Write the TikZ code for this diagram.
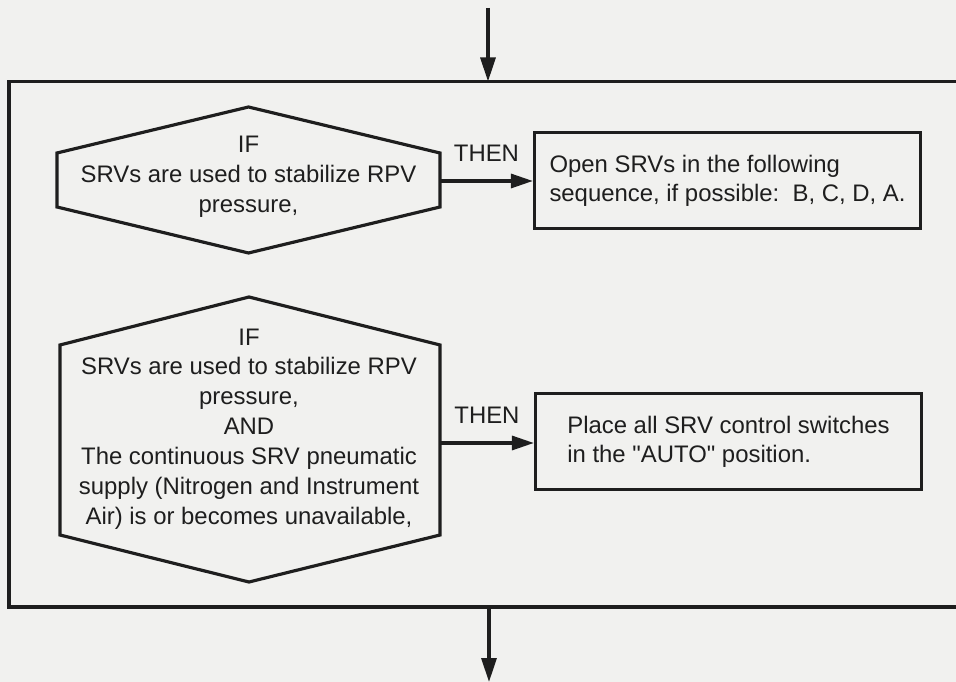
\documentclass[tikz,border=0pt]{standalone}
\usepackage{fontspec}
\setmainfont{Liberation Sans}
\usepackage{xcolor}
\definecolor{paperGray}{RGB}{241,241,239}
\definecolor{inkBlack}{RGB}{30,30,30}
\usepackage{tikz}
\usetikzlibrary{arrows.meta,positioning,calc}
\tikzstyle{condtext}=[align=center, inner sep=0pt, font=\fontsize{6.8}{8.5}\selectfont, text=inkBlack]
\tikzstyle{hexline}=[draw=inkBlack, line width=0.9pt, line join=miter]
\tikzstyle{actbox}=[rectangle, draw=inkBlack, line width=0.9pt, minimum width=3.86cm, minimum height=0.96cm, align=left, font=\fontsize{6.8}{8.3}\selectfont, text=inkBlack]
\tikzstyle{thenarrow}=[-{Triangle[length=0.22cm, width=0.14cm]}, line width=0.9pt, color=inkBlack]
\tikzstyle{flowarrow}=[-{Triangle[length=0.24cm, width=0.15cm]}, line width=0.9pt, color=inkBlack]

\begin{document}
\begin{tikzpicture}
    % Fundo e limites
    \fill[paperGray] (0,0) rectangle (9.56,-6.82);
    \useasboundingbox (0,0) rectangle (9.56,-6.82);

    % Moldura do bloco
    \coordinate (fr-tl) at (0.09,-0.815);
    \coordinate (fr-bl) at (0.09,-6.07);
    \coordinate (fr-tr) at (9.70,-0.815);
    \coordinate (fr-br) at (9.70,-6.07);
    \draw[hexline] (fr-tr) -- (fr-tl) -- (fr-bl) -- (fr-br);

    % Entrada e saida
    \coordinate (in)   at (4.88,-0.08);
    \coordinate (in-e) at (4.88,-0.815);
    \coordinate (out-s) at (4.89,-6.07);
    \coordinate (out)   at (4.89,-6.82);
    \draw[flowarrow] (in) -- (in-e);
    \draw[flowarrow] (out-s) -- (out);

    % Condicao 1
    \node[condtext] (cond1) at (2.485,-1.77)
        {IF\\SRVs are used to stabilize RPV\\pressure,};
    \draw[hexline] (2.485,-1.07) -- (4.40,-1.53) -- (4.40,-2.07)
        -- (2.485,-2.53) -- (0.57,-2.07) -- (0.57,-1.53) -- cycle;
    \coordinate (cond1e) at (4.40,-1.81);

    % Acao 1
    \node[actbox] (act1) at (7.275,-1.805)
        {Open SRVs in the following\\sequence, if possible:\ \ B, C, D, A.};
    \draw[thenarrow] (cond1e) -- (cond1e -| act1.west)
        node[midway, yshift=0.28cm, font=\fontsize{6.8}{8}\selectfont] {THEN};

    % Condicao 2
    \node[condtext] (cond2) at (2.49,-4.29)
        {IF\\SRVs are used to stabilize RPV\\pressure,\\AND\\The continuous SRV pneumatic\\supply (Nitrogen and Instrument\\Air) is or becomes unavailable,};
    \draw[hexline] (2.49,-2.97) -- (4.40,-3.45) -- (4.40,-5.35)
        -- (2.49,-5.82) -- (0.60,-5.35) -- (0.60,-3.45) -- cycle;
    \coordinate (cond2e) at (4.40,-4.43);

    % Acao 2
    \node[actbox] (act2) at (7.285,-4.415)
        {Place all SRV control switches\\in the \textquotedbl AUTO\textquotedbl{} position.};
    \draw[thenarrow] (cond2e) -- (cond2e -| act2.west)
        node[midway, yshift=0.28cm, font=\fontsize{6.8}{8}\selectfont] {THEN};
\end{tikzpicture}
\end{document}
